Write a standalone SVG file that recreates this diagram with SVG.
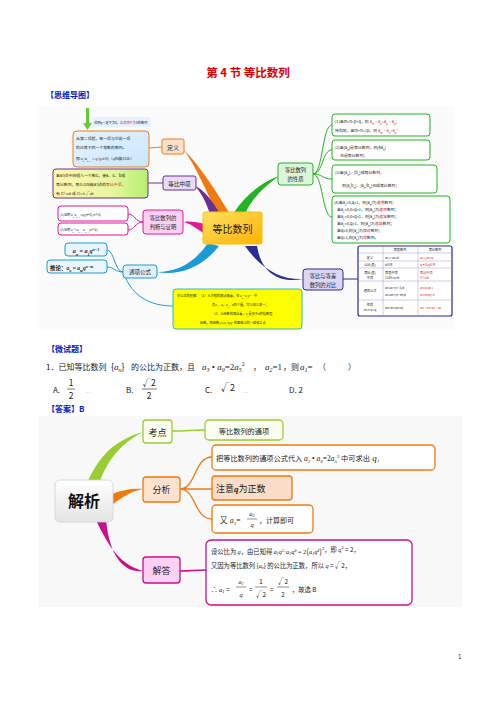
<svg xmlns="http://www.w3.org/2000/svg" width="496" height="702" viewBox="0 0 496 702">
<defs>
<linearGradient id="gCenter" x1="0" y1="0" x2="1" y2="1"><stop offset="0" stop-color="#ffe066"/><stop offset="1" stop-color="#ffb300"/></linearGradient>
<linearGradient id="gMid" x1="0" y1="0" x2="1" y2="0"><stop offset="0" stop-color="#fff6b0"/><stop offset="0.6" stop-color="#e8f7a0"/><stop offset="1" stop-color="#b8ee70"/></linearGradient>
<linearGradient id="gDef" x1="0" y1="0" x2="1" y2="1"><stop offset="0" stop-color="#e6f4ff"/><stop offset="1" stop-color="#c8e6fb"/></linearGradient>
<linearGradient id="gJie" x1="0" y1="0" x2="0" y2="1"><stop offset="0" stop-color="#ffffff"/><stop offset="1" stop-color="#e4e4e4"/></linearGradient>
</defs>
<style>
text{font-family:"Noto Sans CJK SC","Liberation Serif",serif;fill:#222}
.m{font-family:"Liberation Serif","Noto Sans CJK SC",serif;font-style:italic}
.t{font-size:3.9px}
.ts{font-size:3.2px}
.red{fill:#e02020}
.box{stroke-width:1}
</style>
<rect width="496" height="702" fill="#fff"/>
<text x="248" y="77" text-anchor="middle" font-size="11.5" font-weight="bold" style="fill:#e00000">第 4 节  等比数列</text>
<text x="46" y="98" font-size="8" font-weight="bold" style="fill:#0020c0">【思维导图】</text>

<!-- backgrounds -->
<rect x="38" y="106" width="416" height="224" fill="#fbfbfb"/>
<rect x="38" y="416" width="424" height="191" fill="#f8f8f8"/>

<g id="connectors">
<!-- top map main branches -->
<path d="M218,214 C206,192 198,170 184,150 C200,166 214,188 230,214 Z" fill="#f07a10"/>
<path d="M210,214 C206,202 202,194 195,186 C204,190 212,200 220,214 Z" fill="#6a2f96"/>
<path d="M233,214 C245,195 262,182 279,176 C265,186 252,198 245,214 Z" fill="#22b322"/>
<path d="M205,224 C197,222 190,221 184,222 C191,224 197,229 205,234 Z" fill="#e0189a"/>
<path d="M208,243 C195,262 178,272 157,272 C178,276 202,268 219,246 Z" fill="#1a9ad6"/>
<path d="M245,246 C262,270 282,280 303,279 C282,283 262,276 257,246 Z" fill="#2b2b94"/>
<g fill="none" stroke-width="1">
<path d="M162,147 L149,148" stroke="#f07a10"/>
<path d="M163,183 L148,183" stroke="#6a2f96"/>
<path d="M143,222 C135,222 135,214 128,214 M143,222 C135,222 135,230 128,230" stroke="#e0189a"/>
<path d="M123,272 C115,272 114,250 107,250 M123,272 C115,272 114,267 107,267 M124,274 C132,296 150,306 173,306" stroke="#1a9ad6"/>
<path d="M313,174 C323,174 322,125 332,125 M313,174 C323,174 322,150 332,150 M313,174 C323,174 322,179 332,179 M313,174 C323,174 322,217 332,217" stroke="#22b322"/>
<path d="M343,279 L358,279" stroke="#2b2b94"/>
</g>
<!-- bottom map -->
<path d="M88,481 C100,455 115,440 143,432 C120,444 108,460 100,481 Z" fill="#9acd32"/>
<path d="M112,494 C122,490 132,488 143,489 C132,491 122,497 112,505 Z" fill="#f07a10"/>
<path d="M96,520 C110,550 122,565 143,571 C126,573 110,560 106,520 Z" fill="#c8108a"/>
<g fill="none" stroke-width="1.3">
<path d="M172,431 C188,431 190,430 205,430" stroke="#9acd32"/>
<path d="M180,489 C196,489 194,457 212,457 M180,489 L212,489 M180,489 C196,489 194,519 212,519" stroke="#f07a10"/>
<path d="M180,571 C192,571 194,570 206,570" stroke="#c8108a"/>
</g>
</g>

<g id="note">
<path d="M86,108 L89,108 L89,123 L92,123 L87.5,130 L83,123 L86,123 Z" fill="#66cc33"/>
<rect x="92" y="117" width="59" height="10" fill="#e6f2ff"/>
<text x="94" y="124" class="ts">说明q一定不为0，<tspan class="red">各项均不为</tspan>0的数列</text>
</g>
<g id="def-box">
<rect x="73" y="131" width="76" height="36" rx="4" fill="url(#gDef)" stroke="#f07a10" class="box"/>
<text x="76" y="140" class="t">从第二项起，每一项与它前一项</text>
<text x="76" y="148.5" class="t">的比等于同一个常数的数列。</text>
<text x="76" y="160" class="t">即 <tspan class="m">a<tspan baseline-shift="sub" font-size="2.6">n</tspan>/a<tspan baseline-shift="sub" font-size="2.6">n−1</tspan></tspan> = <tspan class="m">q</tspan> (<tspan class="m">q</tspan>≠0)（<tspan class="m">q</tspan>叫做公比）</text>
</g>
<g id="dingyi">
<rect x="162" y="139" width="22" height="15" rx="2" fill="#fde0c8" stroke="#f07a10" class="box"/>
<text x="173" y="149.5" text-anchor="middle" font-size="6">定义</text>
</g>
<g id="mid-box">
<rect x="53" y="169" width="95" height="29" rx="3" fill="url(#gMid)" stroke="#6a2f96" class="box"/>
<text x="56" y="177" class="t">若a与b中间插入一个数G，使a、G、b成</text>
<text x="56" y="185.5" class="t">等比数列，那么G叫做a与b的<tspan class="red">等比中项</tspan>，</text>
<text x="56" y="194.5" class="t">有 <tspan class="m">G</tspan>²=<tspan class="m">ab</tspan> 或 <tspan class="m">G</tspan>=±√<tspan class="m">ab</tspan></text>
</g>
<g id="zhongxiang">
<rect x="163" y="176" width="33" height="14" rx="2" fill="#e8dcf4" stroke="#6a2f96" class="box"/>
<text x="179.5" y="185.5" text-anchor="middle" font-size="5.6">等比中项</text>
</g>
<g id="proof1">
<rect x="58" y="206" width="70" height="15" rx="3" fill="#fff" stroke="#e0189a" class="box"/>
<text x="60" y="215.5" class="ts">(1)证明 <tspan class="m">a<tspan baseline-shift="sub" font-size="2.4">n</tspan>/a<tspan baseline-shift="sub" font-size="2.4">n−1</tspan></tspan>=<tspan class="m">q</tspan>(<tspan class="m">q</tspan>≠0)(<tspan class="m">n</tspan>≥2)</text>
</g>
<g id="proof2">
<rect x="58" y="223" width="70" height="12" rx="3" fill="#fff" stroke="#e0189a" class="box"/>
<text x="60" y="231" class="ts">(2)证明 <tspan class="m">a<tspan baseline-shift="sub" font-size="2.4">n</tspan></tspan>²=<tspan class="m">a<tspan baseline-shift="sub" font-size="2.4">n−1</tspan>·a<tspan baseline-shift="sub" font-size="2.4">n+1</tspan></tspan>(<tspan class="m">n</tspan>≥2)</text>
</g>
<g id="panduan">
<rect x="143" y="210" width="40" height="24" rx="3" fill="#fbd0f0" stroke="#e0189a" class="box"/>
<text x="163" y="220" text-anchor="middle" font-size="5.3">等比数列的</text>
<text x="163" y="229" text-anchor="middle" font-size="5.3">判断与证明</text>
</g>
<g id="center">
<rect x="203" y="212" width="59" height="32" rx="2" fill="url(#gCenter)" stroke="#f5c400" class="box"/>
<text x="232.5" y="233" text-anchor="middle" font-size="10">等比数列</text>
</g>
<g id="an-box">
<rect x="65" y="243" width="42" height="13" rx="3" fill="#eaf6ff" stroke="#1a9ad6" class="box"/>
<text x="86" y="252.5" text-anchor="middle" font-size="6" class="m" font-weight="bold">a<tspan baseline-shift="sub" font-size="4">n</tspan> = a<tspan baseline-shift="sub" font-size="4">1</tspan>q<tspan baseline-shift="super" font-size="4">n−1</tspan></text>
</g>
<g id="tuilun">
<rect x="47" y="260" width="60" height="13" rx="3" fill="#eaf6ff" stroke="#1a9ad6" class="box"/>
<text x="50" y="269.5" font-size="5.5" font-weight="bold">推论：<tspan class="m">a<tspan baseline-shift="sub" font-size="3.8">n</tspan> = a<tspan baseline-shift="sub" font-size="3.8">m</tspan>q<tspan baseline-shift="super" font-size="3.8">n−m</tspan></tspan></text>
</g>
<g id="tongxiang">
<rect x="123" y="265" width="34" height="13" rx="3" fill="#dff0fb" stroke="#1a9ad6" class="box"/>
<text x="140" y="274" text-anchor="middle" font-size="5.5">通项公式</text>
</g>
<g id="yellow-box">
<rect x="173" y="289" width="129" height="40" rx="3" fill="#ffff00" stroke="#33b8c8" class="box"/>
<text x="177" y="297" class="ts">对公式的理解：（1）从方程的观点来看，在 <tspan class="m">a<tspan baseline-shift="sub" font-size="2.4">n</tspan>=a<tspan baseline-shift="sub" font-size="2.4">1</tspan>q<tspan baseline-shift="super" font-size="2.4">n−1</tspan></tspan> 中</text>
<text x="212" y="306" class="ts">有<tspan class="m">a<tspan baseline-shift="sub" font-size="2.4">1</tspan>，q，a<tspan baseline-shift="sub" font-size="2.4">n</tspan>，n</tspan>四个量，可以知三求一；</text>
<text x="212" y="315" class="ts">（2）从函数的观点看，<tspan class="m">a<tspan baseline-shift="sub" font-size="2.4">n</tspan></tspan>是关于<tspan class="m">n</tspan>的指数型</text>
<text x="200" y="324" class="ts">函数，即函数 <tspan class="m">y</tspan>=(<tspan class="m">a<tspan baseline-shift="sub" font-size="2.4">1</tspan>/q</tspan>)<tspan class="m">q<tspan baseline-shift="super" font-size="2.4">x</tspan></tspan> 的图像上的一群孤立点</text>
</g>
<g id="xingzhi">
<rect x="278" y="163" width="35" height="22" rx="3" fill="#dcf5dc" stroke="#22b322" class="box"/>
<text x="295.5" y="172" text-anchor="middle" font-size="5.3">等比数列</text>
<text x="295.5" y="181" text-anchor="middle" font-size="5.3">的性质</text>
</g>
<g id="prop1">
<rect x="332" y="114" width="98" height="22" rx="3" fill="#fff" stroke="#22b322" class="box"/>
<text x="335" y="123" class="t">(1)若m+n=p+q，则 <tspan class="red">a<tspan baseline-shift="sub" font-size="2.6">m</tspan>·a<tspan baseline-shift="sub" font-size="2.6">n</tspan>=a<tspan baseline-shift="sub" font-size="2.6">p</tspan>·a<tspan baseline-shift="sub" font-size="2.6">q</tspan></tspan>；</text>
<text x="335" y="132" class="t">特别地，若m+n=2p，则 <tspan class="red">a<tspan baseline-shift="sub" font-size="2.6">m</tspan>·a<tspan baseline-shift="sub" font-size="2.6">n</tspan>=a<tspan baseline-shift="sub" font-size="2.6">p</tspan>²</tspan></text>
</g>
<g id="prop2">
<rect x="332" y="140" width="98" height="20" rx="3" fill="#fff" stroke="#22b322" class="box"/>
<text x="335" y="148.5" class="t">(2)若{a<tspan baseline-shift="sub" font-size="2.6">n</tspan>}是等比数列，则{ka<tspan baseline-shift="sub" font-size="2.6">n</tspan>}</text>
<text x="340" y="157" class="t">也是等比数列；</text>
</g>
<g id="prop3">
<rect x="332" y="165" width="105" height="28" rx="3" fill="#fff" stroke="#22b322" class="box"/>
<text x="335" y="174" class="t">(3)若{a<tspan baseline-shift="sub" font-size="2.6">n</tspan>}，{b<tspan baseline-shift="sub" font-size="2.6">n</tspan>}成等比数列，</text>
<text x="342" y="187" class="t">则{a<tspan baseline-shift="sub" font-size="2.6">n</tspan>b<tspan baseline-shift="sub" font-size="2.6">n</tspan>}、{a<tspan baseline-shift="sub" font-size="2.6">n</tspan>/b<tspan baseline-shift="sub" font-size="2.6">n</tspan>}也成等比数列；</text>
</g>
<g id="prop4">
<rect x="332" y="196" width="118" height="47" rx="3" fill="#fff" stroke="#22b322" class="box"/>
<text x="334" y="203.5" class="t">(4)若a<tspan baseline-shift="sub" font-size="2.6">1</tspan>&gt;0,q&gt;1，则{a<tspan baseline-shift="sub" font-size="2.6">n</tspan>}为<tspan class="red">递增</tspan>数列；</text>
<text x="337" y="210.5" class="t">若a<tspan baseline-shift="sub" font-size="2.6">1</tspan>&lt;0,0&lt;q&lt;1，则{a<tspan baseline-shift="sub" font-size="2.6">n</tspan>}为<tspan class="red">递增</tspan>数列；</text>
<text x="337" y="217.5" class="t">若a<tspan baseline-shift="sub" font-size="2.6">1</tspan>&gt;0,0&lt;q&lt;1，则{a<tspan baseline-shift="sub" font-size="2.6">n</tspan>}为<tspan class="red">递减</tspan>数列；</text>
<text x="337" y="224.5" class="t">若a<tspan baseline-shift="sub" font-size="2.6">1</tspan>&lt;0,q&gt;1，则{a<tspan baseline-shift="sub" font-size="2.6">n</tspan>}为<tspan class="red">递减</tspan>数列；</text>
<text x="337" y="231.5" class="t">若q&lt;0,则{a<tspan baseline-shift="sub" font-size="2.6">n</tspan>}为<tspan class="red">摆动</tspan>数列；</text>
<text x="337" y="238.5" class="t">若q=1,则{a<tspan baseline-shift="sub" font-size="2.6">n</tspan>}为<tspan class="red">常</tspan>数列。</text>
</g>
<g id="duibi">
<rect x="303" y="269" width="40" height="21" rx="3" fill="#dcd6f2" stroke="#2b2b94" class="box"/>
<text x="323" y="278" text-anchor="middle" font-size="5.3">等比与等差</text>
<text x="323" y="287" text-anchor="middle" font-size="5.3">数列的对比</text>
</g>
<g id="table">
<rect x="358" y="246" width="94" height="70" rx="2" fill="#fff" stroke="#2b2b94" stroke-width="1.2"/>
<g stroke="#8888bb" stroke-width="0.4" fill="none">
<path d="M358,253 H452 M358,261 H452 M358,268 H452 M358,281 H452 M358,300 H452 M383,246 V316 M418,246 V316"/>
</g>
<text x="400" y="251" text-anchor="middle" class="ts">等差数列</text>
<text x="435" y="251" text-anchor="middle" class="ts">等比数列</text>
<text x="370" y="258.5" text-anchor="middle" class="ts">定义</text>
<text x="385" y="258.5" class="ts">a<tspan font-size="2">n+1</tspan>−a<tspan font-size="2">n</tspan>=d</text>
<text x="420" y="258.5" class="ts red">a<tspan font-size="2">n+1</tspan>/a<tspan font-size="2">n</tspan>=q</text>
<text x="370" y="266" text-anchor="middle" class="ts">公比(差)</text>
<text x="385" y="266" class="ts">d∈R</text>
<text x="420" y="266" class="ts red">q≠0,q∈R</text>
<text x="370" y="274" text-anchor="middle" class="ts">等比(差)</text>
<text x="370" y="278.5" text-anchor="middle" class="ts">中项</text>
<text x="385" y="273.5" class="ts">等差中项</text>
<text x="385" y="279" class="ts">⇔2A=a+b</text>
<text x="420" y="273.5" class="ts red">等比中项</text>
<text x="420" y="279" class="ts red">G²=ab</text>
<text x="370" y="292" text-anchor="middle" class="ts">通项公式</text>
<text x="385" y="289" class="ts">a<tspan font-size="2">n</tspan>=a<tspan font-size="2">1</tspan>+(n−1)d</text>
<text x="385" y="296" class="ts">a<tspan font-size="2">n</tspan>=a<tspan font-size="2">m</tspan>+(n−m)d</text>
<text x="420" y="289" class="ts red">a<tspan font-size="2">n</tspan>=a<tspan font-size="2">1</tspan>q<tspan font-size="2">n−1</tspan></text>
<text x="420" y="296" class="ts red">a<tspan font-size="2">n</tspan>=a<tspan font-size="2">m</tspan>q<tspan font-size="2">n−m</tspan></text>
<text x="370" y="306" text-anchor="middle" class="ts">性质</text>
<text x="370" y="311" text-anchor="middle" font-size="2.6">(m+n=p+q)</text>
<text x="385" y="309" class="ts">a<tspan font-size="2">m</tspan>+a<tspan font-size="2">n</tspan>=a<tspan font-size="2">p</tspan>+a<tspan font-size="2">q</tspan></text>
<text x="420" y="309" class="ts red">a<tspan font-size="2">m</tspan>·a<tspan font-size="2">n</tspan>=a<tspan font-size="2">p</tspan>·a<tspan font-size="2">q</tspan></text>
</g>

<g id="question">
<text x="47" y="352" font-size="8" font-weight="bold" style="fill:#0020c0">【微试题】</text>
<text x="46" y="370" font-size="8">1．已知等比数列</text>
<text x="111" y="370" font-size="9">{<tspan class="m">a</tspan><tspan class="m" font-size="6" dy="2">n</tspan><tspan dy="-2">}</tspan></text>
<text x="131" y="370" font-size="8">的公比为正数，且</text>
<text x="202" y="370" font-size="9" class="m">a<tspan font-size="6" dy="2">3</tspan><tspan dy="-2" style="font-style:normal"> • </tspan>a<tspan font-size="6" dy="2">9</tspan><tspan dy="-2" style="font-style:normal">=2</tspan>a<tspan font-size="6" dy="2">5</tspan><tspan font-size="6" dy="-6" style="font-style:normal">2</tspan></text>
<text x="253" y="370" font-size="8">，</text>
<text x="265" y="370" font-size="9" class="m">a<tspan font-size="6" dy="2">2</tspan><tspan dy="-2" style="font-style:normal">=1</tspan></text>
<text x="283" y="370" font-size="8">，则</text>
<text x="300" y="370" font-size="9" class="m">a<tspan font-size="6" dy="2">1</tspan><tspan dy="-2" style="font-style:normal">=</tspan></text>
<text x="318" y="370" font-size="8">（</text>
<text x="348" y="370" font-size="8">）</text>
<text x="53" y="393" font-size="8" font-family="Liberation Serif">A.</text>
<text x="71" y="386" font-size="8.5" text-anchor="middle" font-family="Liberation Serif">1</text>
<line x1="67" y1="389" x2="75" y2="389" stroke="#222" stroke-width="0.6"/>
<text x="71" y="399" font-size="8.5" text-anchor="middle" font-family="Liberation Serif">2</text>
<text x="86" y="393" font-size="6" style="fill:#999">. .</text>
<text x="126" y="393" font-size="8" font-family="Liberation Serif">B.</text>
<text x="149" y="386" font-size="8.5" text-anchor="middle" font-family="Liberation Serif">√2</text>
<line x1="142" y1="389" x2="157" y2="389" stroke="#222" stroke-width="0.6"/>
<text x="149" y="399" font-size="8.5" text-anchor="middle" font-family="Liberation Serif">2</text>
<text x="205" y="393" font-size="8" font-family="Liberation Serif">C.</text>
<text x="221" y="391" font-size="9" font-family="Liberation Serif">√2</text>
<text x="243" y="393" font-size="6" style="fill:#999">.   .</text>
<text x="289" y="393" font-size="8" font-family="Liberation Serif">D. 2</text>
<text x="47" y="412" font-size="8" font-weight="bold" style="fill:#0020c0">【答案】B</text>
</g>

<g id="jiexi">
<rect x="55" y="480" width="58" height="42" rx="5" fill="url(#gJie)" stroke="#d0d0d0" stroke-width="0.8"/>
<text x="84" y="507" text-anchor="middle" font-size="16" font-weight="bold" style="fill:#111">解析</text>
</g>
<g id="kaodian">
<rect x="143" y="420" width="29" height="23" rx="3" fill="#fafff0" stroke="#9acd32" stroke-width="1.3"/>
<text x="157.5" y="435.5" text-anchor="middle" font-size="9">考点</text>
</g>
<g id="kaodian-val">
<rect x="205" y="420" width="78" height="20" rx="4" fill="#fafff0" stroke="#9acd32" stroke-width="1.3"/>
<text x="244" y="433.5" text-anchor="middle" font-size="7.2">等比数列的通项</text>
</g>
<g id="fenxi">
<rect x="143" y="477" width="37" height="25" rx="3" fill="#fde2cf" stroke="#f07a10" stroke-width="1.3"/>
<text x="161.5" y="493" text-anchor="middle" font-size="9">分析</text>
</g>
<g id="fx1">
<rect x="212" y="445" width="223" height="25" rx="4" fill="#fff" stroke="#f07a10" stroke-width="1.3"/>
<text x="216" y="461" font-size="7.2">把等比数列的通项公式代入 <tspan class="m" font-size="7.5">a<tspan font-size="5" dy="1.5">3</tspan><tspan dy="-1.5" style="font-style:normal"> • </tspan>a<tspan font-size="5" dy="1.5">9</tspan><tspan dy="-1.5" style="font-style:normal">=2</tspan>a<tspan font-size="5" dy="1.5">5</tspan><tspan font-size="5" dy="-5" style="font-style:normal">2</tspan></tspan><tspan dy="3.5"> 中可求出</tspan><tspan class="m" font-size="9"> q</tspan><tspan font-size="6">，</tspan></text>
</g>
<g id="fx2">
<rect x="212" y="476" width="80" height="24" rx="3" fill="#fbdcc6" stroke="#f07a10" stroke-width="1.3"/>
<text x="216" y="492" font-size="9">注意<tspan class="m" font-weight="bold">q</tspan>为正数</text>
</g>
<g id="fx3">
<rect x="212" y="505" width="101" height="28" rx="4" fill="#fff" stroke="#f07a10" stroke-width="1.3"/>
<text x="220" y="523" font-size="7.5">又</text>
<text x="230" y="523" font-size="7.5" class="m">a<tspan font-size="5" dy="1.5">1</tspan><tspan dy="-1.5" style="font-style:normal">=</tspan></text>
<text x="252" y="516" font-size="6.5" text-anchor="middle" class="m">a<tspan font-size="4.5" dy="1">2</tspan></text>
<line x1="247" y1="519" x2="257" y2="519" stroke="#222" stroke-width="0.5"/>
<text x="252" y="527" font-size="6.5" text-anchor="middle" class="m">q</text>
<text x="259" y="523" font-size="7">，计算即可</text>
</g>
<g id="jieda">
<rect x="143" y="557" width="37" height="26" rx="3" fill="#fbd0f4" stroke="#c8108a" stroke-width="1.3"/>
<text x="161.5" y="573.5" text-anchor="middle" font-size="9">解答</text>
</g>
<g id="answer">
<rect x="206" y="540" width="206" height="65" rx="5" fill="#fff" stroke="#c8108a" stroke-width="1.3"/>
<text x="211" y="554" font-size="6.3">设公比为 <tspan class="m">q</tspan>，由已知得 <tspan class="m">a<tspan font-size="4" dy="1">1</tspan><tspan dy="-1">q</tspan><tspan font-size="4" dy="-2.5">2</tspan><tspan dy="2.5" style="font-style:normal">·</tspan>a<tspan font-size="4" dy="1">1</tspan><tspan dy="-1">q</tspan><tspan font-size="4" dy="-2.5">8</tspan><tspan dy="2.5" style="font-style:normal"> = 2</tspan></tspan><tspan font-size="8">(</tspan><tspan class="m">a<tspan font-size="4" dy="1">1</tspan><tspan dy="-1">q</tspan><tspan font-size="4" dy="-2.5">4</tspan></tspan><tspan font-size="8" dy="2.5">)</tspan><tspan font-size="4" dy="-4.5">2</tspan><tspan dy="2">，即 </tspan><tspan class="m">q</tspan><tspan font-size="4" dy="-2.5">2</tspan><tspan dy="2.5"> = 2，</tspan></text>
<text x="211" y="568" font-size="6.3">又因为等比数列 {<tspan class="m">a</tspan><tspan font-size="4" dy="1" class="m">n</tspan><tspan dy="-1">} 的公比为正数，所以 </tspan><tspan class="m">q</tspan> = √2，</text>
<text x="211" y="592" font-size="6.5">∴ <tspan class="m">a</tspan><tspan font-size="4" dy="1">1</tspan><tspan dy="-1"> =</tspan></text>
<text x="241" y="584" font-size="6.3" text-anchor="middle" class="m">a<tspan font-size="4" dy="1">2</tspan></text>
<line x1="236" y1="587" x2="246" y2="587" stroke="#222" stroke-width="0.5"/>
<text x="241" y="597" font-size="6.3" text-anchor="middle" class="m">q</text>
<text x="249" y="592" font-size="6.5">=</text>
<text x="261" y="584" font-size="6.3" text-anchor="middle">1</text>
<line x1="255" y1="587" x2="267" y2="587" stroke="#222" stroke-width="0.5"/>
<text x="261" y="597" font-size="6.3" text-anchor="middle">√2</text>
<text x="270" y="592" font-size="6.5">=</text>
<text x="283" y="584" font-size="6.3" text-anchor="middle">√2</text>
<line x1="277" y1="587" x2="289" y2="587" stroke="#222" stroke-width="0.5"/>
<text x="283" y="597" font-size="6.3" text-anchor="middle">2</text>
<text x="292" y="592" font-size="6.3">，故选 B</text>
</g>
<text x="458" y="659" font-size="6" font-family="Liberation Serif">1</text>
</svg>
